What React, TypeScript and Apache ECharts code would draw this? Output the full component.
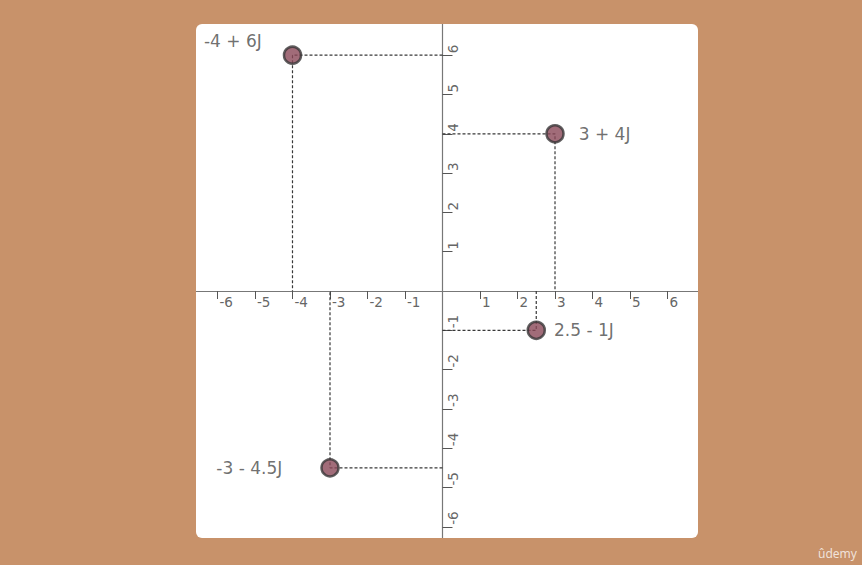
import React, { useEffect, useRef } from "react";
import * as echarts from "echarts";

const pointNames = ["-4 + 6J", "3 + 4J", "2.5 - 1J", "-3 - 4.5J"];
const realParts = [-4, 3, 2.5, -3];
const imagParts = [6, 4, -1, -4.5];
const xTickValues = [-6, -5, -4, -3, -2, -1, 1, 2, 3, 4, 5, 6];
const yTickValues = [-6, -5, -4, -3, -2, -1, 1, 2, 3, 4, 5, 6];

const labelPlacement = [
  { position: "left", distance: 21, offset: [0, -14] },
  { position: "right", distance: 14, offset: [0, 0] },
  { position: "right", distance: 8, offset: [0, 0] },
  { position: "left", distance: 38, offset: [0, 0] },
];

const FONT = "'DejaVu Sans', 'Noto Sans', sans-serif";

export default function App() {
  const ref = useRef<HTMLDivElement>(null);
  useEffect(() => {
    document.body.style.margin = "0";
    if (!ref.current) return;
    const chart = echarts.init(ref.current, undefined, { renderer: "svg" });
    const guideSeries = realParts.map((x, i) => ({
      type: "line",
      data: [
        [0, imagParts[i]],
        [x, imagParts[i]],
        [x, 0],
      ],
      symbol: "none",
      silent: true,
      z: 1,
      lineStyle: { color: "#383838", width: 1.2, type: [3, 2] },
    }));
    chart.setOption({
      animation: false,
      backgroundColor: "transparent",
      grid: {
        left: 0,
        right: 0,
        top: 0,
        bottom: 0,
        containLabel: false,
        outerBoundsMode: "none",
      },
      xAxis: {
        type: "value",
        position: "bottom",
        offset: 0,
        min: -6.573,
        max: 6.813,
        splitLine: { show: false },
        axisLine: { onZero: false, lineStyle: { color: "#777", width: 1.2 } },
        axisTick: {
          show: true,
          customValues: xTickValues,
          length: 8,
          lineStyle: { color: "#555", width: 1 },
        },
        axisLabel: {
          customValues: xTickValues,
          align: "left",
          verticalAlign: "top",
          margin: 4,
          padding: [0, 0, 0, 2],
          fontSize: 13.5,
          fontFamily: FONT,
          color: "#666",
        },
      },
      yAxis: {
        type: "value",
        position: "left",
        offset: 0,
        min: -6.285,
        max: 6.794,
        splitLine: { show: false },
        axisLine: { onZero: false, lineStyle: { color: "#777", width: 1.2 } },
        axisTick: {
          show: true,
          inside: true,
          customValues: yTickValues,
          length: 10,
          lineStyle: { color: "#555", width: 1 },
        },
        axisLabel: {
          customValues: yTickValues,
          inside: true,
          rotate: 90,
          align: "left",
          verticalAlign: "top",
          margin: 4,
          padding: [0, 0, 0, 2],
          fontSize: 13.5,
          fontFamily: FONT,
          color: "#666",
        },
      },
      series: [
        ...guideSeries,
        {
          type: "scatter",
          z: 3,
          symbol: "circle",
          symbolSize: 17,
          itemStyle: { color: "#8a4757", borderColor: "#383637", borderWidth: 2.5 },
          data: realParts.map((x, i) => ({
            value: [x, imagParts[i]],
            name: pointNames[i],
            label: {
              show: true,
              formatter: pointNames[i],
              position: labelPlacement[i].position,
              distance: labelPlacement[i].distance,
              offset: labelPlacement[i].offset,
              fontSize: 17,
              fontFamily: FONT,
              color: "#4a4a4a",
            },
          })),
        },
      ],
    });
    // place both axes on the origin using the library's own scales
    const origin = chart.convertToPixel({ gridIndex: 0 }, [0, 0]) as number[];
    const h = chart.getHeight();
    chart.setOption({
      xAxis: { offset: -(h - origin[1]) },
      yAxis: { offset: -origin[0] },
    });
    return () => chart.dispose();
  }, []);

  return (
    <div
      style={{
        position: "relative",
        width: 862,
        height: 565,
        background: "#c8926a",
        overflow: "hidden",
      }}
    >
      <div
        style={{
          position: "absolute",
          left: 196,
          top: 24,
          width: 502,
          height: 514,
          background: "#ffffff",
          borderRadius: 6,
        }}
      >
        <div ref={ref} style={{ width: 502, height: 514 }} />
      </div>
      <span
        style={{
          position: "absolute",
          left: 818,
          top: 545,
          fontFamily: "'Noto Sans', sans-serif",
          fontSize: 12,
          color: "rgba(255,255,255,0.75)",
        }}
      >
        ûdemy
      </span>
    </div>
  );
}
